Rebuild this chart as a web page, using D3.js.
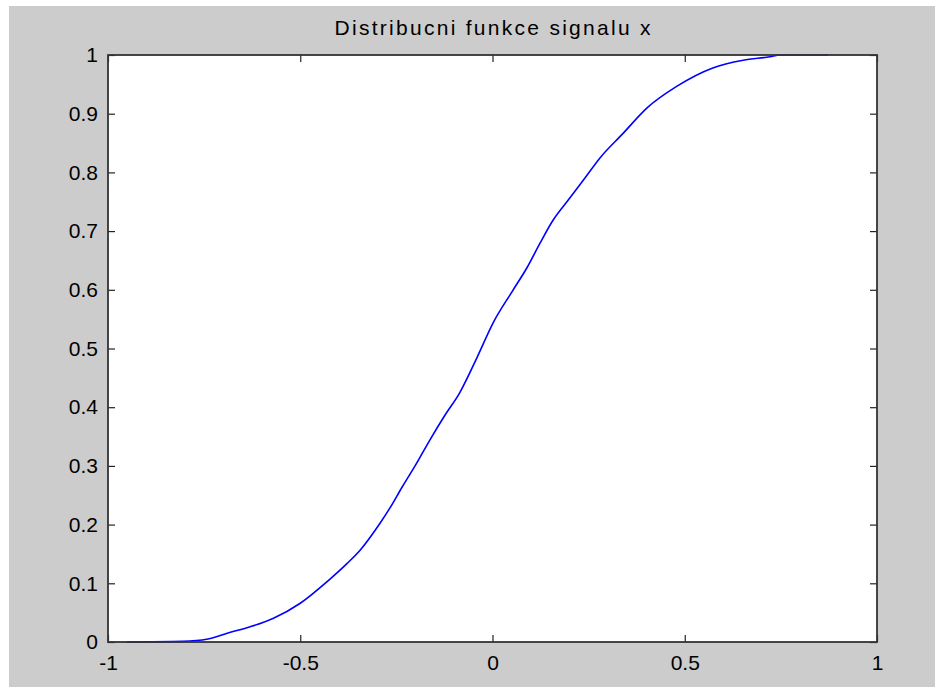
<!DOCTYPE html>
<html>
<head>
<meta charset="utf-8">
<script src="https://cdn.jsdelivr.net/npm/d3@7"></script>
<style>
  html, body { margin: 0; padding: 0; background: #fff; }
  svg { display: block; }
</style>
</head>
<body>
<script>
var xVals = [-0.951, -0.805, -0.74, -0.69, -0.63, -0.571, -0.50, -0.43, -0.378, -0.345,
             -0.293, -0.267, -0.235, -0.196, -0.163, -0.125, -0.085, -0.040, 0.001, 0.051,
             0.090, 0.124, 0.157, 0.196, 0.24, 0.28, 0.339, 0.402, 0.48, 0.573,
             0.652, 0.722, 0.748, 0.873];
var cdfVals = [0, 0.001, 0.005, 0.015, 0.026, 0.04, 0.066, 0.103, 0.134, 0.156,
               0.202, 0.228, 0.264, 0.306, 0.344, 0.385, 0.425, 0.485, 0.543, 0.597,
               0.638, 0.680, 0.718, 0.752, 0.79, 0.825, 0.866, 0.910, 0.947, 0.978,
               0.991, 0.997, 1.0, 1.0];
var xTicks = [-1, -0.5, 0, 0.5, 1];
var yTicks = [0, 0.1, 0.2, 0.3, 0.4, 0.5, 0.6, 0.7, 0.8, 0.9, 1];
var title = 'Distribucni funkce signalu x';

var width = 935,
    height = 687,
    plotL = 108, plotR = 877,
    plotT = 55, plotB = 642,
    tick = 7;

var svg = d3.select('body')
    .append('svg')
    .attr('width', width)
    .attr('height', height)
    .style('font-family', '"Liberation Sans", Arial, sans-serif');

// figure background (thin white strip top and left)
svg.append('rect')
    .attr('x', 9).attr('y', 6)
    .attr('width', width - 9).attr('height', height - 6)
    .attr('fill', '#cccccc');

var x = d3.scaleLinear().domain([-1, 1]).range([plotL, plotR]);
var y = d3.scaleLinear().domain([0, 1]).range([plotB, plotT]);

svg.append('rect')
    .attr('x', plotL).attr('y', plotT)
    .attr('width', plotR - plotL).attr('height', plotB - plotT)
    .attr('fill', '#fff');

var fmt = function(d) { return String(d); };

function styleAxis(g) {
    g.select('.domain').remove();
    g.selectAll('line').attr('stroke', '#222').attr('stroke-width', 1.2);
    g.selectAll('text').attr('fill', '#000').style('font-size', '21px');
}

svg.append('g')
    .attr('transform', 'translate(0,' + plotB + ')')
    .call(d3.axisBottom(x).tickValues(xTicks).tickFormat(fmt).tickSizeInner(-tick).tickSizeOuter(0).tickPadding(13))
    .call(styleAxis);
svg.append('g')
    .attr('transform', 'translate(0,' + plotT + ')')
    .call(d3.axisTop(x).tickValues(xTicks).tickFormat('').tickSizeInner(-tick).tickSizeOuter(0))
    .call(styleAxis);
svg.append('g')
    .attr('transform', 'translate(' + plotL + ',0)')
    .call(d3.axisLeft(y).tickValues(yTicks).tickFormat(fmt).tickSizeInner(-tick).tickSizeOuter(0).tickPadding(10))
    .call(styleAxis);
svg.append('g')
    .attr('transform', 'translate(' + plotR + ',0)')
    .call(d3.axisRight(y).tickValues(yTicks).tickFormat('').tickSizeInner(-tick).tickSizeOuter(0))
    .call(styleAxis);

var pts = xVals.map(function(d, i) { return [d, cdfVals[i]]; });

svg.append('path')
    .datum(pts)
    .attr('d', d3.line().x(function(d) { return x(d[0]); }).y(function(d) { return y(d[1]); }).curve(d3.curveMonotoneX))
    .attr('fill', 'none')
    .attr('stroke', '#0000ff')
    .attr('stroke-width', 1.6);

// plot box
svg.append('rect')
    .attr('x', plotL).attr('y', plotT)
    .attr('width', plotR - plotL).attr('height', plotB - plotT)
    .attr('fill', 'none')
    .attr('stroke', '#333')
    .attr('stroke-width', 1.8);

svg.append('text')
    .attr('x', (plotL + plotR) / 2)
    .attr('y', 35)
    .attr('text-anchor', 'middle')
    .attr('textLength', 316)
    .attr('lengthAdjust', 'spacing')
    .style('font-size', '21px')
    .text(title);
</script>
</body>
</html>
